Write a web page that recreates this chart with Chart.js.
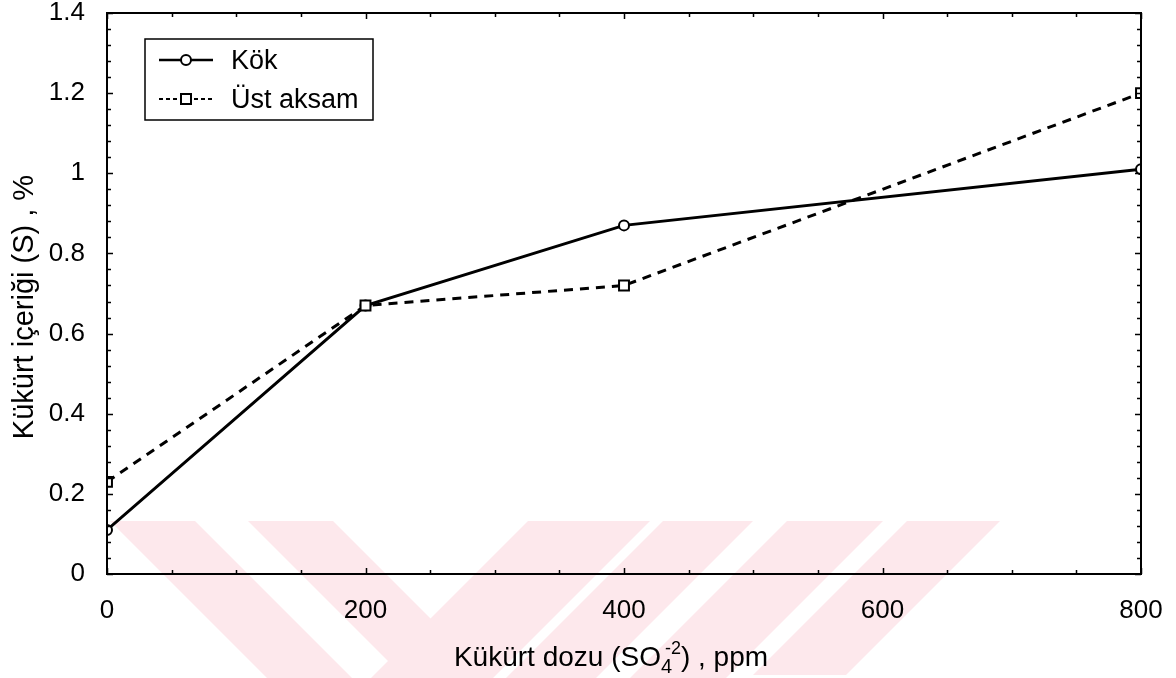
<!DOCTYPE html>
<html>
<head>
<meta charset="utf-8">
<script src="https://cdn.jsdelivr.net/npm/chart.js@4.4.0/dist/chart.umd.min.js"></script>
<style>
html, body { margin: 0; padding: 0; background: #fff; }
</style>
</head>
<body>
<canvas id="myChart" width="1176" height="678"></canvas>
<script>
// values
var dozlar = [0, 200, 400, 800];
var kokValues = [0.11, 0.67, 0.87, 1.01];
var ustValues = [0.23, 0.67, 0.72, 1.20];
var xTicks = [0, 200, 400, 600, 800];
var yTicks = [0, 0.2, 0.4, 0.6, 0.8, 1, 1.2, 1.4];
var seriesNames = ['Kök', 'Üst aksam'];
var yTitle = 'Kükürt içeriği (S) , %';
var xTitleParts = ['Kükürt dozu (SO', '4', '-2', ') , ppm'];

var FONT = '"Liberation Sans", Arial, sans-serif';

function pts(values) {
    var out = [];
    for (var i = 0; i < values.length; i++) {
        out.push({ x: dozlar[i], y: values[i] });
    }
    return out;
}

// pale pink watermark behind the chart
var watermark = {
    id: 'watermark',
    beforeDraw: function(chart) {
        var ctx = chart.ctx;
        ctx.save();
        ctx.fillStyle = '#fff';
        ctx.fillRect(0, 0, chart.width, chart.height);
        ctx.fillStyle = 'rgb(253,232,236)';
        var bands = [
            [[110,521],[195,521],[352,678],[267,678]],
            [[248,521],[333,521],[490,678],[405,678]],
            [[528,521],[650,521],[493,678],[371,678]],
            [[663,521],[753,521],[596,678],[506,678]],
            [[787,521],[883,521],[726,678],[630,678]],
            [[907,521],[1000,521],[846,675],[753,675]]
        ];
        bands.forEach(function(b) {
            ctx.beginPath();
            ctx.moveTo(b[0][0], b[0][1]);
            for (var i = 1; i < b.length; i++) ctx.lineTo(b[i][0], b[i][1]);
            ctx.closePath();
            ctx.fill();
        });
        ctx.restore();
    }
};

// frame with inward ticks on all four sides
var frame = {
    id: 'frame',
    afterDatasetsDraw: function(chart) {
        var ctx = chart.ctx, a = chart.chartArea;
        var xs = chart.scales.x, ys = chart.scales.y;
        ctx.save();
        ctx.strokeStyle = '#000';
        ctx.lineWidth = 1.5;
        for (var v = 0; v <= 800; v += 50) {
            var px = Math.round(xs.getPixelForValue(v)) + 0.5;
            var len = v % 200 === 0 ? 6 : 4;
            ctx.beginPath();
            ctx.moveTo(px, a.bottom); ctx.lineTo(px, a.bottom - len);
            ctx.moveTo(px, a.top); ctx.lineTo(px, a.top + len);
            ctx.stroke();
        }
        for (var k = 0; k <= 35; k++) {
            var py = Math.round(ys.getPixelForValue(k * 0.04)) + 0.5;
            var l2 = k % 5 === 0 ? 6 : 4;
            ctx.beginPath();
            ctx.moveTo(a.left, py); ctx.lineTo(a.left + l2, py);
            ctx.moveTo(a.right, py); ctx.lineTo(a.right - l2, py);
            ctx.stroke();
        }
        ctx.lineWidth = 2;
        ctx.strokeRect(a.left, a.top, a.right - a.left, a.bottom - a.top);
        ctx.restore();
    }
};

// legend box, axis titles
var labels = {
    id: 'labels',
    afterDraw: function(chart) {
        var ctx = chart.ctx, a = chart.chartArea;
        ctx.save();
        ctx.fillStyle = '#000';
        ctx.strokeStyle = '#000';

        // legend
        var lx = a.left + 38, ly = a.top + 26;
        ctx.fillStyle = '#fff';
        ctx.fillRect(lx, ly, 228, 81);
        ctx.lineWidth = 1.5;
        ctx.strokeRect(lx, ly, 228, 81);
        ctx.fillStyle = '#000';
        ctx.font = '27px ' + FONT;
        ctx.textBaseline = 'alphabetic';
        ctx.textAlign = 'left';

        var r1 = ly + 21, r2 = ly + 60;
        ctx.lineWidth = 2.5;
        ctx.beginPath();
        ctx.moveTo(lx + 14, r1); ctx.lineTo(lx + 68, r1);
        ctx.stroke();
        ctx.lineWidth = 2;
        ctx.beginPath();
        ctx.arc(lx + 41, r1, 5, 0, Math.PI * 2);
        ctx.fillStyle = '#fff'; ctx.fill(); ctx.stroke();
        ctx.fillStyle = '#000';
        ctx.fillText(seriesNames[0], lx + 86, r1 + 9);

        ctx.lineWidth = 2;
        ctx.setLineDash([4, 3]);
        ctx.beginPath();
        ctx.moveTo(lx + 14, r2); ctx.lineTo(lx + 68, r2);
        ctx.stroke();
        ctx.setLineDash([]);
        ctx.fillStyle = '#fff';
        ctx.fillRect(lx + 36, r2 - 5, 10, 10);
        ctx.strokeRect(lx + 36, r2 - 5, 10, 10);
        ctx.fillStyle = '#000';
        ctx.fillText(seriesNames[1], lx + 86, r2 + 9);

        // y title
        ctx.save();
        ctx.translate(25, 307);
        ctx.rotate(-Math.PI / 2);
        ctx.textAlign = 'center';
        ctx.textBaseline = 'middle';
        ctx.font = '29px ' + FONT;
        ctx.fillText(yTitle, 0, 0);
        ctx.restore();

        // x title with sub / superscript
        var big = '28px ' + FONT, sub = '20px ' + FONT, sup = '18px ' + FONT;
        ctx.font = big;
        var w0 = ctx.measureText(xTitleParts[0]).width;
        var w3 = ctx.measureText(xTitleParts[3]).width;
        ctx.font = sup;
        var w2 = ctx.measureText(xTitleParts[2]).width;
        var total = w0 + 4 + w2 + w3;
        var x0 = 611 - total / 2, base = 666;
        ctx.textAlign = 'left';
        ctx.textBaseline = 'alphabetic';
        ctx.font = big;
        ctx.fillText(xTitleParts[0], x0, base);
        ctx.font = sub;
        ctx.fillText(xTitleParts[1], x0 + w0, base + 7);
        ctx.font = sup;
        ctx.fillText(xTitleParts[2], x0 + w0 + 4, base - 12);
        ctx.font = big;
        ctx.fillText(xTitleParts[3], x0 + w0 + 4 + w2, base);
        ctx.restore();
    }
};

function fmt(v) {
    return String(+Number(v).toFixed(2));
}

var ctx = document.getElementById('myChart').getContext('2d');
var myChart = new Chart(ctx, {
    type: 'line',
    data: {
        datasets: [
            {
                label: seriesNames[0],
                data: pts(kokValues),
                order: 1,
                borderColor: '#000',
                borderWidth: 3,
                pointStyle: 'circle',
                pointRadius: 5,
                pointBorderWidth: 2,
                pointBackgroundColor: '#fff',
                pointBorderColor: '#000',
                tension: 0,
                clip: 0
            },
            {
                label: seriesNames[1],
                data: pts(ustValues),
                order: 0,
                borderColor: '#000',
                borderWidth: 3,
                borderDash: [9, 7],
                pointStyle: 'rect',
                pointRadius: 7,
                pointBorderWidth: 2,
                pointBackgroundColor: '#fff',
                pointBorderColor: '#000',
                tension: 0,
                clip: 0
            }
        ]
    },
    options: {
        responsive: false,
        animation: false,
        devicePixelRatio: 1,
        layout: { padding: { top: 13, right: 35, left: 0, bottom: 0 } },
        plugins: {
            legend: { display: false },
            tooltip: { enabled: false }
        },
        scales: {
            x: {
                type: 'linear',
                min: 0,
                max: 800,
                afterBuildTicks: function(s) {
                    s.ticks = xTicks.map(function(v) { return { value: v }; });
                },
                afterFit: function(s) {
                    s.height = 104;
                    s.paddingLeft = 0; s.paddingRight = 0;
                },
                grid: { display: false },
                border: { display: false },
                ticks: {
                    color: '#000',
                    padding: 13,
                    maxRotation: 0,
                    font: { family: FONT, size: 26 },
                    callback: fmt
                }
            },
            y: {
                type: 'linear',
                min: 0,
                max: 1.4,
                afterBuildTicks: function(s) {
                    s.ticks = yTicks.map(function(v) { return { value: v }; });
                },
                afterFit: function(s) {
                    s.width = 107;
                    s.paddingTop = 0; s.paddingBottom = 0;
                },
                grid: { display: false },
                border: { display: false },
                ticks: {
                    color: '#000',
                    padding: 14,
                    font: { family: FONT, size: 26 },
                    callback: fmt
                }
            }
        }
    },
    plugins: [watermark, frame, labels]
});
</script>
</body>
</html>
